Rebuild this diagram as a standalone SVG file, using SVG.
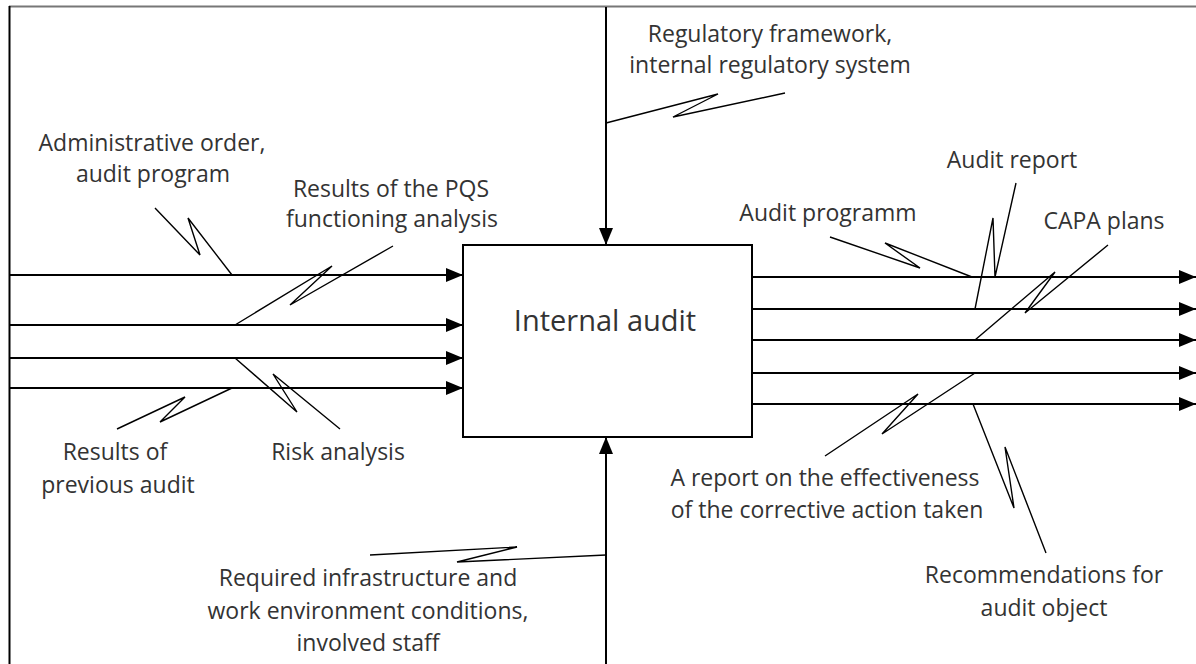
<svg xmlns="http://www.w3.org/2000/svg" width="1196" height="664" viewBox="0 0 1196 664">
<defs>
<marker id="ah" markerUnits="userSpaceOnUse" markerWidth="18" markerHeight="16" refX="17" refY="8" orient="auto">
<path d="M0,1 L17,8 L0,15 z" fill="#000"/>
</marker>
<style>
.t{font-family:"Open Sans","DejaVu Sans",sans-serif;font-size:23px;fill:#333;text-anchor:middle}
.big{font-size:29px}
.arr{stroke:#000;stroke-width:2;fill:none;marker-end:url(#ah)}
.sq{stroke:#000;stroke-width:1.4;fill:none;stroke-linejoin:miter}
</style>
</defs>
<rect width="1196" height="664" fill="#fff"/>
<g id="frame">
<line x1="9" y1="6.5" x2="1196" y2="6.5" stroke="#777" stroke-width="2"/>
<line x1="9.5" y1="6" x2="9.5" y2="664" stroke="#000" stroke-width="2"/>
</g>
<g id="connectors">
<line class="arr" x1="10" y1="275" x2="463" y2="275"/>
<line class="arr" x1="10" y1="325" x2="463" y2="325"/>
<line class="arr" x1="10" y1="358" x2="463" y2="358"/>
<line class="arr" x1="10" y1="388" x2="463" y2="388"/>
<line class="arr" x1="752" y1="277" x2="1196" y2="277"/>
<line class="arr" x1="752" y1="309" x2="1196" y2="309"/>
<line class="arr" x1="752" y1="340" x2="1196" y2="340"/>
<line class="arr" x1="752" y1="373" x2="1196" y2="373"/>
<line class="arr" x1="752" y1="404" x2="1196" y2="404"/>
<line class="arr" x1="606" y1="7" x2="606" y2="245"/>
<line class="arr" x1="606" y1="664" x2="606" y2="437"/>
<polyline class="sq" points="155,208 200,255 188,218 232,275"/>
<polyline class="sq" points="393,246 290,305 332,266 235,325"/>
<polyline class="sq" points="117,429 185,397 160,422 232,388"/>
<polyline class="sq" points="340,429 273,374 297,412 235,358"/>
<polyline class="sq" points="785,93 673,117 718,94 606,123"/>
<polyline class="sq" points="370,555 517,547 457,562 606,555"/>
<polyline class="sq" points="830,237 920,268 885,243 972,277"/>
<polyline class="sq" points="1016,183 995,277 993,218 975,309"/>
<polyline class="sq" points="1108,245 1025,313 1055,272 975,340"/>
<polyline class="sq" points="825,456 918,394 882,434 975,373"/>
<polyline class="sq" points="1046,553 1005,447 1014,508 973,404"/>
</g>
<g id="node-internal-audit">
<rect x="463" y="245" width="289" height="192" fill="#fff" stroke="#000" stroke-width="2"/>
<text class="t big" x="605" y="331">Internal audit</text>
</g>
<g id="label-regulatory">
<text class="t" x="770" y="42">Regulatory framework,</text>
<text class="t" x="770" y="73">internal regulatory system</text>
</g>
<g id="label-admin">
<text class="t" x="152" y="151">Administrative order,</text>
<text class="t" x="153" y="182">audit program</text>
</g>
<g id="label-pqs">
<text class="t" x="391" y="197">Results of the PQS</text>
<text class="t" x="392" y="227">functioning analysis</text>
</g>
<g id="label-previous">
<text class="t" x="115" y="460">Results of</text>
<text class="t" x="118" y="493">previous audit</text>
</g>
<g id="label-risk">
<text class="t" x="338" y="460">Risk analysis</text>
</g>
<g id="label-infrastructure">
<text class="t" x="368" y="586">Required infrastructure and</text>
<text class="t" x="368" y="619">work environment conditions,</text>
<text class="t" x="368" y="651">involved staff</text>
</g>
<g id="label-audit-programm">
<text class="t" x="828" y="221">Audit programm</text>
</g>
<g id="label-audit-report">
<text class="t" x="1012" y="168">Audit report</text>
</g>
<g id="label-capa">
<text class="t" x="1104" y="229">CAPA plans</text>
</g>
<g id="label-effectiveness">
<text class="t" x="825" y="486">A report on the effectiveness</text>
<text class="t" x="827" y="518">of the corrective action taken</text>
</g>
<g id="label-recommendations">
<text class="t" x="1044" y="583">Recommendations for</text>
<text class="t" x="1044" y="616">audit object</text>
</g>
</svg>
